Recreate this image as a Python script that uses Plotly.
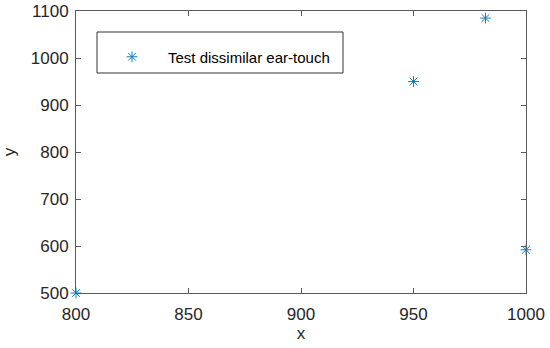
import plotly.graph_objects as go

x_vals = [800, 950, 982, 1000]
y_vals = [500, 950, 1085, 592]
series_name = "Test dissimilar ear-touch"
x_ticks = [800, 850, 900, 950, 1000]
y_ticks = [500, 600, 700, 800, 900, 1000, 1100]

FONT = "Liberation Sans, Arial"

fig = go.Figure()
fig.add_trace(go.Scatter(
    x=x_vals, y=y_vals, mode="markers", name=series_name,
    marker=dict(symbol="asterisk-open", size=9, color="#0f7fc8",
                line=dict(color="#0f7fc8", width=1)),
    cliponaxis=False, showlegend=True,
))

axis_common = dict(
    showline=True, linecolor="#5a5a5a", linewidth=1, mirror="ticks",
    ticks="inside", ticklen=5, tickcolor="#5a5a5a", showgrid=False, zeroline=False,
    automargin=False,
    tickfont=dict(family=FONT, size=17, color="#262626"),
)

fig.update_layout(
    width=550, height=348,
    margin=dict(l=76, r=24, t=11, b=55),
    paper_bgcolor="white", plot_bgcolor="white",
    xaxis=dict(range=[800, 1000], tickvals=x_ticks, ticklabelstandoff=6,
               title=dict(text="x", font=dict(family=FONT, size=17, color="#262626"), standoff=2),
               **axis_common),
    yaxis=dict(range=[500, 1100], tickvals=y_ticks, ticklabelstandoff=3,
               title=dict(text="y", font=dict(family=FONT, size=17, color="#262626"), standoff=10),
               **axis_common),
    showlegend=True,
    legend=dict(x=(96 - 76) / 450, xanchor="left", y=(293 - 57) / 282, yanchor="middle",
                bgcolor="rgba(0,0,0,0)", borderwidth=0, itemwidth=62,
                font=dict(family=FONT, size=15, color="#000000")),
    shapes=[dict(type="rect", xref="paper", yref="paper",
                 x0=(97 - 76) / 450, x1=(343 - 76) / 450,
                 y0=(293 - 73) / 282, y1=(293 - 32) / 282,
                 line=dict(color="#333333", width=1), fillcolor="white", layer="below")],
)

fig.write_html("out.html", config={"displayModeBar": False},
               post_script="document.body.style.margin='0';document.body.style.padding='0';")
